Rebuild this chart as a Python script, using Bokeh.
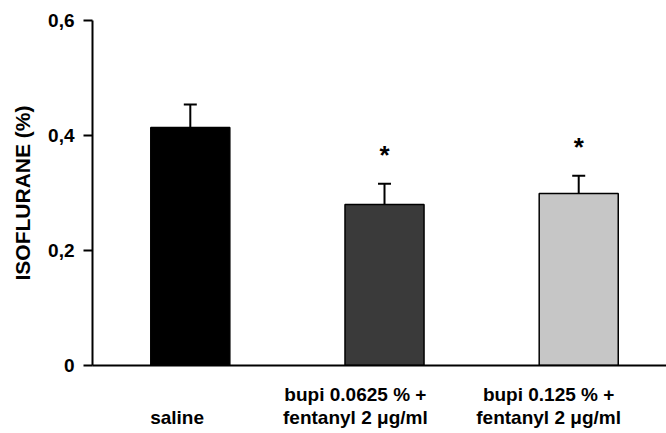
from bokeh.plotting import figure
from bokeh.models import (ColumnDataSource, FixedTicker, Whisker, TeeHead, Label,
                          Range1d)
from bokeh.embed import file_html
from bokeh.resources import INLINE

# Mean isoflurane requirement (%) and SEM per treatment group
groups = ["saline", "bupi 0.0625 % +\nfentanyl 2 \u03bcg/ml", "bupi 0.125 % +\nfentanyl 2 \u03bcg/ml"]
means = [0.414, 0.280, 0.299]
sems = [0.040, 0.036, 0.031]
significant = [False, True, True]
y_ticks = [0, 0.2, 0.4, 0.6]
y_tick_labels = ["0", "0,2", "0,4", "0,6"]

# styling / layout
bar_colors = ["#000000", "#3a3a3a", "#c6c6c6"]
label_pos = [-0.068, 0.850, 1.845]      # centre of each group label (x units)
FONT = "Liberation Sans"

xs = list(range(len(groups)))
tops = [m + s for m, s in zip(means, sems)]
src = ColumnDataSource(dict(x=xs, top=means, upper=tops, color=bar_colors))

p = figure(width=666, height=433, output_backend="svg", toolbar_location=None,
           x_range=Range1d(-0.5036, 2.452), y_range=Range1d(0, 0.6),
           min_border_left=92, min_border_right=0, min_border_top=20,
           min_border_bottom=68)
p.outline_line_color = None
p.grid.visible = False
p.background_fill_color = "white"
p.border_fill_color = "white"

p.vbar(x="x", top="top", width=0.407, bottom=0, fill_color="color",
       line_color="black", line_width=1.5, source=src)

w = Whisker(base="x", lower="top", upper="upper", source=src,
            line_color="black", line_width=2,
            upper_head=TeeHead(size=13, line_width=2, line_color="black"),
            lower_head=None)
p.add_layout(w)

for x, t, sig in zip(xs, tops, significant):
    if sig:
        p.add_layout(Label(x=x, y=t + 0.05, text="*", text_align="center",
                           text_baseline="middle", text_font=FONT,
                           text_font_style="bold", text_font_size="26px",
                           text_color="black"))

# y axis
ya = p.yaxis[0]
ya.ticker = FixedTicker(ticks=y_ticks)
ya.major_label_overrides = {t: l for t, l in zip(y_ticks, y_tick_labels)}
ya.major_label_text_font = FONT
ya.major_label_text_font_style = "bold"
ya.major_label_text_font_size = "19px"
ya.major_label_text_color = "black"
ya.major_label_standoff = 9
ya.major_tick_out = 9
ya.major_tick_in = 0
ya.minor_tick_out = 0
ya.minor_tick_in = 0
ya.major_tick_line_width = 2
ya.axis_line_width = 2
ya.axis_label = "ISOFLURANE (%)"
ya.axis_label_text_font = FONT
ya.axis_label_text_font_style = "bold"
ya.axis_label_text_font_size = "21px"
ya.axis_label_text_color = "black"
ya.axis_label_standoff = 11

# x axis: baseline with group names, no tick marks
labels = ["\n" + g if "\n" not in g else g for g in groups]
xa = p.xaxis[0]
xa.ticker = FixedTicker(ticks=label_pos)
xa.major_label_overrides = {pos: lab for pos, lab in zip(label_pos, labels)}
xa.major_label_text_font = FONT
xa.major_label_text_font_style = "bold"
xa.major_label_text_font_size = "19px"
xa.major_label_text_line_height = 1.1
xa.major_label_text_color = "black"
xa.major_label_standoff = 18
xa.major_tick_out = 0
xa.major_tick_in = 0
xa.minor_tick_out = 0
xa.minor_tick_in = 0
xa.axis_line_width = 2

open("out.html", "w").write(file_html(p, INLINE))
